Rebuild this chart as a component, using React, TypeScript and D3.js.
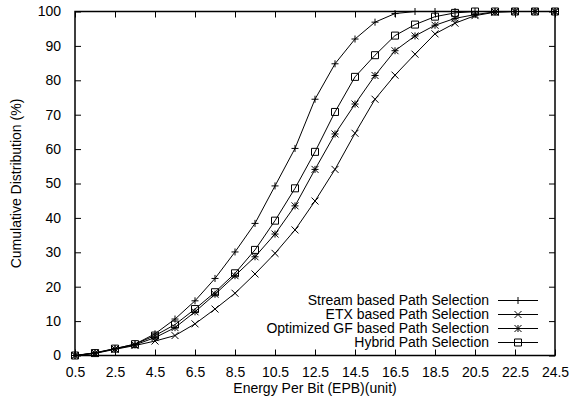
import React, { useRef, useEffect } from "react";
import * as d3 from "d3";

const energyValues = [
	0.5, 1.5, 2.5, 3.5, 4.5, 5.5, 6.5, 7.5, 8.5, 9.5, 10.5, 11.5, 12.5, 13.5,
	14.5, 15.5, 16.5, 17.5, 18.5, 19.5, 20.5, 21.5, 22.5, 23.5, 24.5,
];
const xTickValues = [0.5, 2.5, 4.5, 6.5, 8.5, 10.5, 12.5, 14.5, 16.5, 18.5, 20.5, 22.5, 24.5];
const yTickValues = [0, 10, 20, 30, 40, 50, 60, 70, 80, 90, 100];

const streamValues = [
	0, 0.8, 2.0, 3.3, 6.3, 10.6, 15.9, 22.4, 30.1, 38.4, 49.3, 60.2, 74.5, 84.8,
	92.0, 96.9, 99.4, 100, 100, 100, 100, 100, 100, 100, 100,
];
const etxValues = [
	0, 0.6, 1.8, 2.9, 4.2, 5.8, 9.2, 13.5, 18.1, 23.7, 29.7, 36.5, 44.9, 54.1,
	64.6, 74.5, 81.5, 87.6, 93.5, 96.6, 98.8, 99.8, 100, 100, 100,
];
const gfValues = [
	0, 0.7, 1.9, 3.1, 5.2, 8.1, 12.7, 17.8, 23.2, 28.7, 35.3, 43.5, 54.1, 64.4,
	73.1, 81.4, 88.6, 92.9, 96.0, 98.0, 99.1, 99.9, 100, 100, 100,
];
const hybridValues = [
	0, 0.7, 2.0, 3.3, 5.8, 9.0, 13.5, 18.4, 23.9, 30.7, 39.2, 48.6, 59.2, 70.8,
	81.0, 87.3, 93.0, 96.2, 98.5, 99.6, 100, 100, 100, 100, 100,
];

const seriesNames = [
	"Stream based Path Selection",
	"ETX based Path Selection",
	"Optimized GF based Path Selection",
	"Hybrid Path Selection",
];
const seriesMarkers = ["plus", "cross", "star", "box"];

const WIDTH = 572;
const HEIGHT = 403;
const FONT = "'Liberation Sans', Arial, Helvetica, sans-serif";

function markerPath(kind: string, cx: number, cy: number, r: number): string {
	const p = d3.path();
	if (kind === "plus" || kind === "star") {
		p.moveTo(cx - r, cy);
		p.lineTo(cx + r, cy);
		p.moveTo(cx, cy - r);
		p.lineTo(cx, cy + r);
	}
	if (kind === "cross" || kind === "star") {
		p.moveTo(cx - r, cy - r);
		p.lineTo(cx + r, cy + r);
		p.moveTo(cx - r, cy + r);
		p.lineTo(cx + r, cy - r);
	}
	if (kind === "box") {
		p.rect(cx - r, cy - r, 2 * r, 2 * r);
	}
	return p.toString();
}

const App: React.FC = () => {
	const svgRef = useRef<SVGSVGElement | null>(null);

	useEffect(() => {
		if (!svgRef.current) return;
		const svg = d3.select(svgRef.current);
		svg.selectAll("*").remove();

		const left = 75, right = 555, top = 11.5, bottom = 355.5;
		const x = d3.scaleLinear().domain([0.5, 24.5]).range([left, right]);
		const y = d3.scaleLinear().domain([0, 100]).range([bottom, top]);

		const tick = 6;

		// axes with inward ticks on all four sides
		const xb = svg.append("g").attr("transform", `translate(0,${bottom})`)
			.call(d3.axisBottom(x).tickValues(xTickValues).tickSizeInner(-tick).tickSizeOuter(0).tickPadding(12).tickFormat((d) => String(d)));
		const xt = svg.append("g").attr("transform", `translate(0,${top})`)
			.call(d3.axisTop(x).tickValues(xTickValues).tickSizeInner(-tick).tickSizeOuter(0).tickFormat(() => ""));
		const yl = svg.append("g").attr("transform", `translate(${left},0)`)
			.call(d3.axisLeft(y).tickValues(yTickValues).tickSizeInner(-tick).tickSizeOuter(0).tickPadding(14).tickFormat((d) => String(d)));
		const yr = svg.append("g").attr("transform", `translate(${right},0)`)
			.call(d3.axisRight(y).tickValues(yTickValues).tickSizeInner(-tick).tickSizeOuter(0).tickFormat(() => ""));

		[xb, xt, yl, yr].forEach((g) => {
			g.select(".domain").remove();
			g.selectAll("line").attr("stroke", "#000").attr("stroke-width", 1);
			g.selectAll("text").attr("fill", "#000").attr("font-size", 14).attr("font-family", FONT);
		});

		svg.append("rect")
			.attr("x", left).attr("y", top)
			.attr("width", right - left).attr("height", bottom - top)
			.attr("fill", "none").attr("stroke", "#000").attr("stroke-width", 1.5);

		const allSeries = [streamValues, etxValues, gfValues, hybridValues];
		const line = d3.line<number>()
			.x((_, i) => x(energyValues[i]))
			.y((d) => y(d));

		allSeries.forEach((vals, si) => {
			svg.append("path")
				.attr("d", line(vals) || "")
				.attr("fill", "none")
				.attr("stroke", "#000")
				.attr("stroke-width", 1);
			svg.append("g").selectAll("path")
				.data(vals)
				.enter()
				.append("path")
				.attr("d", (d, i) => markerPath(seriesMarkers[si], x(energyValues[i]), y(d), seriesMarkers[si] === "box" ? 3.5 : 3.5))
				.attr("fill", "none")
				.attr("stroke", "#000")
				.attr("stroke-width", 1);
		});

		// legend
		const legendRows = [300.5, 314.5, 328.5, 342.5];
		seriesNames.forEach((name, i) => {
			const ly = legendRows[i];
			svg.append("text")
				.attr("x", 489).attr("y", ly)
				.attr("dy", "0.35em")
				.attr("text-anchor", "end")
				.attr("font-size", 14).attr("font-family", FONT)
				.attr("fill", "#000")
				.text(name);
			svg.append("line")
				.attr("x1", 498).attr("x2", 538)
				.attr("y1", ly).attr("y2", ly)
				.attr("stroke", "#000").attr("stroke-width", 1);
			svg.append("path")
				.attr("d", markerPath(seriesMarkers[i], 518, ly, 3.5))
				.attr("fill", "none").attr("stroke", "#000").attr("stroke-width", 1);
		});

		// axis titles
		svg.append("text")
			.attr("x", 315).attr("y", 393)
			.attr("text-anchor", "middle")
			.attr("font-size", 14).attr("font-family", FONT)
			.text("Energy Per Bit (EPB)(unit)");
		svg.append("text")
			.attr("transform", `translate(21,${(top + bottom) / 2}) rotate(-90)`)
			.attr("text-anchor", "middle")
			.attr("font-size", 14).attr("font-family", FONT)
			.text("Cumulative Distribution (%)");
	}, []);

	return (
		<svg
			ref={svgRef}
			width={WIDTH}
			height={HEIGHT}
			style={{ position: "absolute", left: 0, top: 0, background: "#fff" }}
		/>
	);
};

export default App;
